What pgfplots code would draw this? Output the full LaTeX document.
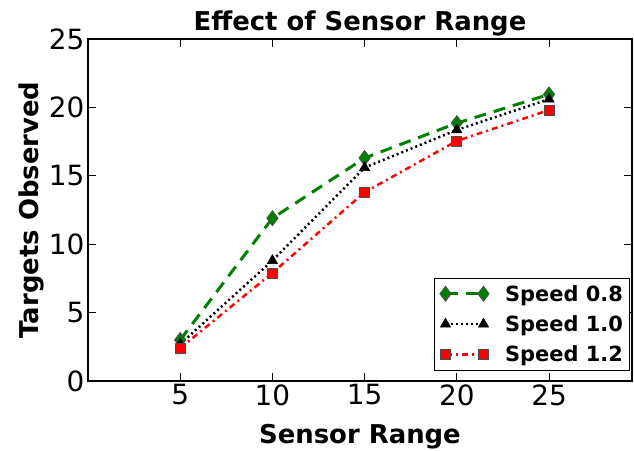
\documentclass[border=0pt]{standalone}
\usepackage{pgfplots}
\pgfplotsset{compat=1.18}
\usepackage{fontspec}
\setmainfont{DejaVu Sans}

\definecolor{mplgreen}{rgb}{0,0.5,0}

\begin{document}
\begin{tikzpicture}
\begin{axis}[
    scale only axis,
    width=544bp, height=342bp,
    xmin=0, xmax=29.5, ymin=0, ymax=25,
    xtick={5,10,15,20,25},
    ytick={0,5,10,15,20,25},
    /pgf/number format/assume math mode=true,
    tick label style={font=\fontsize{28}{30}\selectfont},
    major tick length=8bp,
    tick style={black, line width=0.8bp},
    axis line style={line width=1.2bp},
    title={Effect of Sensor Range},
    title style={font=\fontsize{26}{28}\selectfont\bfseries, yshift=-7bp},
    xlabel={Sensor Range},
    ylabel={Targets Observed},
    label style={font=\fontsize{26}{28}\selectfont\bfseries},
    xlabel style={yshift=-12bp},
    ylabel style={yshift=-2bp},
    legend style={at={(0.997,0.03)}, anchor=south east,
        font=\fontsize{21}{23}\selectfont\bfseries,
        draw=black, line width=1bp, inner xsep=5bp, inner ysep=5bp,
        row sep=9bp, cells={anchor=west},
        /tikz/every odd column/.style={column sep=14bp}},
    legend image code/.code={
        \draw[#1] plot coordinates {(0bp,0bp) (38bp,0bp)};
    },
]
\addplot[mplgreen, line width=3bp, dash pattern=on 12bp off 8bp,
    mark=diamond*, mark size=7.5bp,
    mark options={solid, fill=mplgreen, draw=black!70, line width=0.8bp}]
    coordinates {(5,3.0) (10,11.9) (15,16.3) (20,18.85) (25,20.95)};
\addlegendentry{Speed 0.8}
\addplot[black, line width=2.5bp, dash pattern=on 2bp off 3bp,
    mark=triangle*, mark size=6bp,
    mark options={solid, fill=black, draw=black, line width=0.5bp}]
    coordinates {(5,2.7) (10,8.8) (15,15.6) (20,18.35) (25,20.6)};
\addlegendentry{Speed 1.0}
\addplot[red, line width=2.5bp, dash pattern=on 6bp off 4bp on 2bp off 4bp,
    mark=square*, mark size=5bp,
    mark options={solid, fill=red, draw=black!70, line width=0.8bp}]
    coordinates {(5,2.4) (10,7.9) (15,13.8) (20,17.55) (25,19.8)};
\addlegendentry{Speed 1.2}
\end{axis}
\pgfresetboundingbox
\path (current axis.south west) ++(-88bp,-70bp) rectangle ++(634bp,451bp);
\end{tikzpicture}
\end{document}
